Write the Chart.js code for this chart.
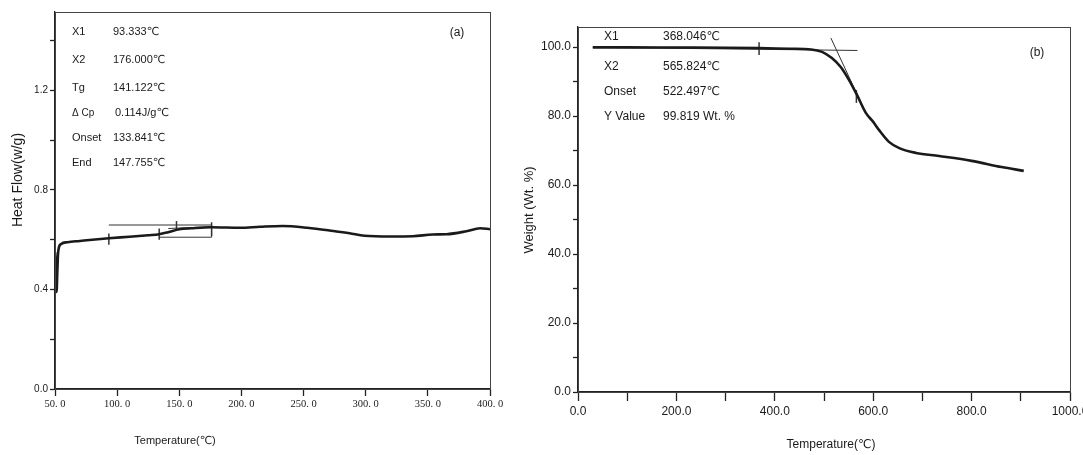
<!DOCTYPE html>
<html>
<head>
<meta charset="utf-8">
<script src="https://cdn.jsdelivr.net/npm/chart.js@4/dist/chart.umd.min.js"></script>
<style>
    html, body { margin: 0; padding: 0; background: #fff; }
    #wrap { position: relative; width: 1083px; height: 455px; overflow: hidden; }
    canvas { position: absolute; top: 0; }
    #chartA { left: 0; }
    #chartB { left: 510px; }
</style>
</head>
<body>
<div id="wrap">
    <canvas id="chartA" width="520" height="455"></canvas>
    <canvas id="chartB" width="573" height="455"></canvas>
</div>
<script>
    'use strict';

    // (a) DSC curve
    var dscTemp = [50, 50.6, 51.0, 51.4, 51.8, 52.4, 53.2, 55, 60, 70, 80, 93.3, 110, 125, 133.8, 141,
        150, 160, 176, 199, 215, 233, 253, 274, 287, 299, 320, 338, 354, 365, 381, 392, 400];
    var dscHeatFlow = [0.55, 0.47, 0.39, 0.40, 0.46, 0.54, 0.57, 0.583, 0.59, 0.595, 0.60, 0.606, 0.612, 0.618, 0.622, 0.63,
        0.642, 0.646, 0.65, 0.648, 0.652, 0.655, 0.648, 0.635, 0.626, 0.616, 0.613, 0.614, 0.621, 0.622, 0.634, 0.646, 0.642];
    var dscTempTicks = [50, 100, 150, 200, 250, 300, 350, 400];
    var dscFlowTicks = [0.0, 0.4, 0.8, 1.2];

    // (a) Tg analysis marks
    var dscMarkTemp = [93.333, 133.841, 147.755, 176.0];
    var dscMarkLow = [0.58, 0.60, 0.635, 0.615];
    var dscMarkHigh = [0.625, 0.645, 0.675, 0.67];
    var dscBoxTemp = [93.333, 133.841, 176.0];   // top-left, bottom-left, right
    var dscBoxFlow = [0.659, 0.61];              // top, bottom
    var dscResultNames = ['X1', 'X2', 'Tg', '\u0394 Cp', 'Onset', 'End'];
    var dscResultValues = ['93.333\u2103', '176.000\u2103', '141.122\u2103', '0.114J/g\u2103', '133.841\u2103', '147.755\u2103'];

    // (b) TGA curve
    var tgaTemp = [30, 100, 200, 300, 368, 430, 474, 496, 516, 534, 551, 567, 585, 600, 612, 632, 653,
        687, 734, 800, 861, 906];
    var tgaWeight = [99.9, 99.9, 99.85, 99.8, 99.7, 99.5, 99.3, 98.6, 96.8, 94.2, 90.4, 86.1, 80.9, 78.3, 75.9, 72.5, 70.7,
        69.3, 68.4, 67.0, 65.2, 64.1];
    var tgaTempTicks = [0, 200, 400, 600, 800, 1000];
    var tgaWeightTicks = [0, 20, 40, 60, 80, 100];

    // (b) onset analysis marks
    var tgaBaseTemp = [30, 568];
    var tgaBaseWeight = [99.9, 99.0];
    var tgaTangentTemp = [514, 578];
    var tgaTangentWeight = [102.6, 83.0];
    var tgaMarkTemp = [368.046, 565.824];
    var tgaMarkLow = [97.7, 83.8];
    var tgaMarkHigh = [101.4, 87.5];
    var tgaResultNames = ['X1', 'X2', 'Onset', 'Y Value'];
    var tgaResultValues = ['368.046\u2103', '565.824\u2103', '522.497\u2103', '99.819 Wt. %'];

    var SANS = '"Liberation Sans", Arial, "DejaVu Sans", sans-serif';
    var SERIF = '"Liberation Serif", "DejaVu Serif", serif';
    var INK = '#1a1a1a';

    function points(xs, ys) {
        return xs.map(function (x, i) { return { x: x, y: ys[i] }; });
    }

    function segment(x0, y0, x1, y1) {
        return {
            data: [{ x: x0, y: y0 }, { x: x1, y: y1 }],
            showLine: true,
            borderColor: '#333',
            borderWidth: 1,
            pointRadius: 0,
        };
    }

    function curve(xs, ys) {
        return {
            data: points(xs, ys),
            showLine: true,
            borderColor: INK,
            borderWidth: 2.6,
            pointRadius: 0,
            cubicInterpolationMode: 'monotone',
        };
    }

    // box round the plot area
    var framePlugin = {
        id: 'frame',
        afterDraw: function (chart) {
            var a = chart.chartArea, ctx = chart.ctx;
            ctx.save();
            ctx.strokeStyle = '#444';
            ctx.lineWidth = 1;
            ctx.strokeRect(a.left + 0.5, a.top + 0.5, a.right - a.left, a.bottom - a.top);
            ctx.restore();
        }
    };

    // free text: axis titles, results table, panel letter
    var textPlugin = {
        id: 'panelText',
        afterDraw: function (chart, args, opts) {
            var ctx = chart.ctx;
            opts.items.forEach(function (it) {
                ctx.save();
                ctx.font = it.font;
                ctx.fillStyle = INK;
                ctx.textAlign = it.align || 'left';
                ctx.textBaseline = 'middle';
                ctx.translate(it.x, it.y);
                if (it.rotate) ctx.rotate(it.rotate);
                ctx.fillText(it.text, 0, 0);
                ctx.restore();
            });
        }
    };

    function fixWidth(w) {
        return function (scale) {
            scale.width = w;
            scale.paddingTop = 0; scale.paddingBottom = 0;
        };
    }
    function fixHeight(h) {
        return function (scale) {
            scale.height = h;
            scale.paddingLeft = 0; scale.paddingRight = 0;
        };
    }

    function axisGrid(len) {
        return { display: true, drawOnChartArea: false, drawTicks: true, tickLength: len, tickColor: '#222', tickWidth: 1.3 };
    }

    // ---------- (a) ----------
    var itemsA = [
        { text: 'Heat Flow(w/g)', x: 18, y: 180, font: '14px ' + SANS, align: 'center', rotate: -Math.PI / 2 },
        { text: 'Temperature(\u2103)', x: 175, y: 441, font: '11px ' + SANS, align: 'center' },
        { text: '(a)', x: 457, y: 33, font: '12px ' + SANS, align: 'center' },
    ];
    var rowYA = [32, 60, 88, 113, 138, 163];
    dscResultNames.forEach(function (t, i) {
        itemsA.push({ text: t, x: 72, y: rowYA[i], font: (i === 3 ? '10px ' : '11px ') + SANS });
        itemsA.push({ text: dscResultValues[i], x: i === 3 ? 115 : 113, y: rowYA[i], font: '11px ' + SANS });
    });

    var dsA = [curve(dscTemp, dscHeatFlow)];
    dsA.push(segment(dscBoxTemp[0], dscBoxFlow[0], dscBoxTemp[2], dscBoxFlow[0]));
    dsA.push(segment(dscBoxTemp[1], dscBoxFlow[1], dscBoxTemp[2], dscBoxFlow[1]));
    dsA.push(segment(dscBoxTemp[2], dscBoxFlow[1], dscBoxTemp[2], dscBoxFlow[0]));
    dsA.push(segment(141.122, 0.645, 176.0, 0.652));
    dscMarkTemp.forEach(function (t, i) {
        var s = segment(t, dscMarkLow[i], t, dscMarkHigh[i]);
        s.borderWidth = 1.5;
        dsA.push(s);
    });

    new Chart(document.getElementById('chartA'), {
        type: 'scatter',
        data: { datasets: dsA },
        options: {
            responsive: false,
            animation: false,
            layout: { padding: { top: 12, right: 30, left: 0, bottom: 0 } },
            plugins: { legend: { display: false }, tooltip: { enabled: false },
                panelText: { items: itemsA } },
            scales: {
                x: {
                    type: 'linear', min: 50, max: 400,
                    afterFit: fixHeight(66),
                    grid: axisGrid(7),
                    border: { display: true, color: '#222', width: 1.3 },
                    ticks: {
                        stepSize: 50, autoSkip: false, maxRotation: 0, padding: 2, color: INK,
                        font: { family: SERIF, size: 10.5 },
                        callback: function (v) {
                            return dscTempTicks.indexOf(v) >= 0 ? v.toFixed(1).replace('.', '. ') : '';
                        }
                    }
                },
                y: {
                    type: 'linear', min: 0, max: 1.515,
                    afterFit: fixWidth(55),
                    grid: axisGrid(5),
                    border: { display: true, color: '#222', width: 1.3 },
                    ticks: {
                        stepSize: 0.2, includeBounds: false, padding: 2, color: INK,
                        font: { family: SANS, size: 10 },
                        callback: function (v) {
                            var r = Math.round(v * 10) / 10;
                            return dscFlowTicks.indexOf(r) >= 0 ? r.toFixed(1) : '';
                        }
                    }
                }
            }
        },
        plugins: [framePlugin, textPlugin]
    });

    // ---------- (b) ----------
    var itemsB = [
        { text: 'Weight (Wt. %)', x: 19, y: 210, font: '13px ' + SANS, align: 'center', rotate: -Math.PI / 2 },
        { text: 'Temperature(\u2103)', x: 321, y: 445, font: '12px ' + SANS, align: 'center' },
        { text: '(b)', x: 527, y: 53, font: '12px ' + SANS, align: 'center' },
    ];
    var rowYB = [37, 67, 92, 117];
    tgaResultNames.forEach(function (t, i) {
        itemsB.push({ text: t, x: 94, y: rowYB[i], font: '12px ' + SANS });
        itemsB.push({ text: tgaResultValues[i], x: 153, y: rowYB[i], font: '12px ' + SANS });
    });

    var dsB = [curve(tgaTemp, tgaWeight)];
    dsB.push(segment(tgaBaseTemp[0], tgaBaseWeight[0], tgaBaseTemp[1], tgaBaseWeight[1]));
    dsB.push(segment(tgaTangentTemp[0], tgaTangentWeight[0], tgaTangentTemp[1], tgaTangentWeight[1]));
    tgaMarkTemp.forEach(function (t, i) {
        var s = segment(t, tgaMarkLow[i], t, tgaMarkHigh[i]);
        s.borderWidth = 1.5;
        dsB.push(s);
    });

    new Chart(document.getElementById('chartB'), {
        type: 'scatter',
        data: { datasets: dsB },
        options: {
            responsive: false,
            animation: false,
            layout: { padding: { top: 27, right: 13, left: 0, bottom: 0 } },
            plugins: { legend: { display: false }, tooltip: { enabled: false },
                panelText: { items: itemsB } },
            scales: {
                x: {
                    type: 'linear', min: 0, max: 1000,
                    afterFit: fixHeight(63),
                    grid: axisGrid(9),
                    border: { display: true, color: '#222', width: 1.3 },
                    ticks: {
                        stepSize: 100, autoSkip: false, maxRotation: 0, padding: 3, color: INK,
                        font: { family: SANS, size: 12 },
                        callback: function (v) {
                            return tgaTempTicks.indexOf(v) >= 0 ? v.toFixed(1) : '';
                        }
                    }
                },
                y: {
                    type: 'linear', min: 0, max: 105.8,
                    afterFit: fixWidth(68),
                    grid: axisGrid(5),
                    border: { display: true, color: '#222', width: 1.3 },
                    ticks: {
                        stepSize: 10, includeBounds: false, padding: 2, color: INK,
                        font: { family: SANS, size: 12 },
                        callback: function (v) {
                            return tgaWeightTicks.indexOf(v) >= 0 ? v.toFixed(1) : '';
                        }
                    }
                }
            }
        },
        plugins: [framePlugin, textPlugin]
    });
</script>
</body>
</html>
